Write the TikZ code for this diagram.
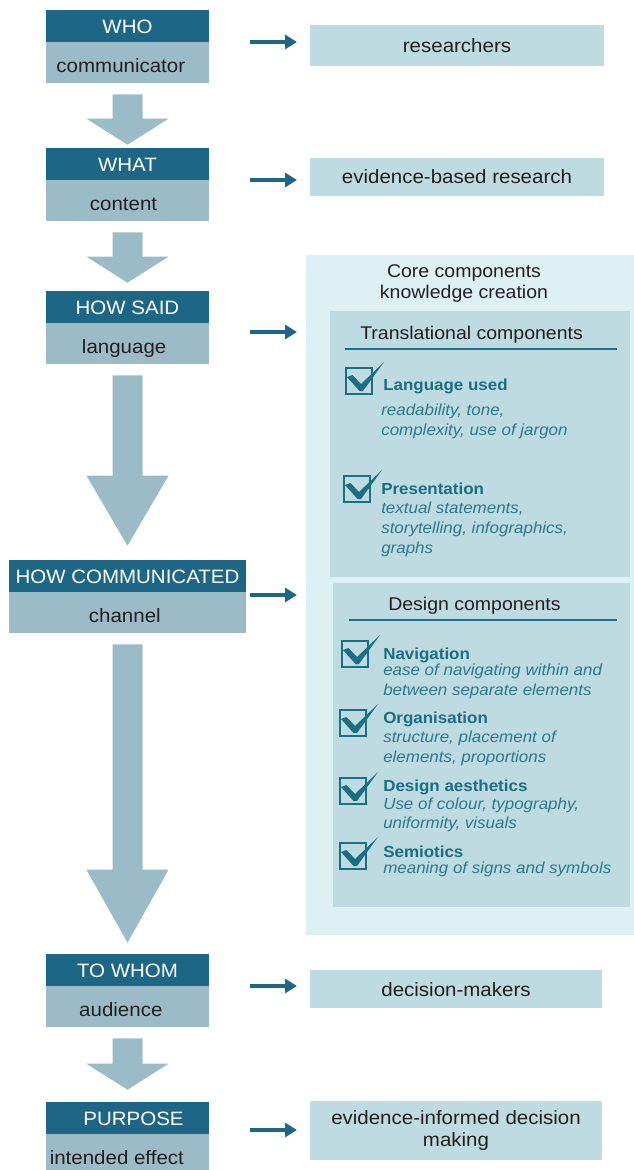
\documentclass[tikz,border=0pt]{standalone}
\usepackage{fontspec}
\setmainfont{Liberation Sans}[FakeStretch=1.06]
\usetikzlibrary{arrows.meta,calc}
\definecolor{hdr}{HTML}{1D6686}
\definecolor{bod}{HTML}{9BBCC6}
\definecolor{rbox}{HTML}{BDDBE0}
\definecolor{corec}{HTML}{DDF0F4}
\definecolor{tealc}{HTML}{1C6E85}
\definecolor{italc}{HTML}{2B7A8D}
\definecolor{txt}{HTML}{231F20}
\newcommand{\mainf}{\fontsize{14.5pt}{17pt}\selectfont}
\newcommand{\ttlf}{\fontsize{13.8pt}{16pt}\selectfont}
\newcommand{\smallf}{\fontsize{12pt}{14pt}\selectfont}
\newcommand{\bigarrow}[4]{%
  \fill[bigarr] ($(#1.south)+(-15,11)$) -- ($(#1.south)+(15,11)$)
    -- ($(#2.north)+(15,-#4-#3)$) -- ($(#2.north)+(41,-#4-#3)$)
    -- ($(#2.north)+(0,-#4)$) -- ($(#2.north)+(-41,-#4-#3)$)
    -- ($(#2.north)+(-15,-#4-#3)$) -- cycle;}
\begin{document}
\begin{tikzpicture}[x=0.75pt,y=-0.75pt,
  hdrbox/.style={fill=hdr, text=white, minimum width=122.25pt, minimum height=24pt, inner sep=0pt, text height=10.6pt, text depth=0pt, font=\mainf},
  bodbox/.style={fill=bod, text=txt, minimum width=122.25pt, minimum height=30.75pt, inner sep=0pt, text height=14.4pt, text depth=0pt, font=\mainf},
  rightbox/.style={fill=rbox, text=txt, inner sep=0pt, font=\mainf, align=center, text height=10.5pt, text depth=0pt},
  bigarr/.style={fill=bod},
  smarr/.style={draw=hdr, line width=3.4pt, -{Triangle[length=9pt,width=10.5pt]}},
  bt/.style={anchor=base west, inner sep=0pt, font=\smallf\bfseries, text=tealc},
  it/.style={anchor=base west, inner sep=0pt, font=\smallf\itshape, text=italc},
  ttl/.style={inner sep=0pt, font=\ttlf, text=txt},
  chk/.pic={
    \draw[tealc, line width=1.5pt] (0,0) rectangle (26,26);
    \fill[tealc] (1,9) -- (6.5,7) -- (15,16) -- (38,-6) -- (17,23) -- (13.5,23) -- cycle;
  }
]
\useasboundingbox (0,0) rectangle (634,1170);

% core background panels
\node[fill=corec, minimum width=246pt, minimum height=510pt, inner sep=0pt] (core) at (470,595) {};
\node[fill=rbox, minimum width=225pt, minimum height=199.5pt, inner sep=0pt] (trans) at (480,444) {};
\node[fill=rbox, minimum width=222.75pt, minimum height=243pt, inner sep=0pt] (design) at (481.5,745) {};

% left column
\node[hdrbox] (who-h) at (127.5,26) {WHO};
\node[bodbox] (who-b) at (127.5,62.5) {communicator\hspace*{10pt}};
\node[hdrbox] (what-h) at (127.5,164) {WHAT};
\node[bodbox] (what-b) at (127.5,200.5) {content\hspace*{6pt}};
\node[hdrbox] (said-h) at (127.5,307) {HOW SAID};
\node[bodbox] (said-b) at (127.5,343.5) {language\hspace*{5pt}};
\node[hdrbox, minimum width=177.75pt] (comm-h) at (127.5,576) {HOW COMMUNICATED};
\node[bodbox, minimum width=177.75pt] (comm-b) at (127.5,612.5) {channel\hspace*{4pt}};
\node[hdrbox] (whom-h) at (127.5,970) {TO WHOM};
\node[bodbox] (whom-b) at (127.5,1006.5) {audience\hspace*{10pt}};
\node[hdrbox] (purp-h) at (127.5,1118) {\hspace*{9pt}PURPOSE};
\node[bodbox] (purp-b) at (127.5,1154.5) {intended effect\hspace*{16pt}};

% big arrows
\bigarrow{who-b}{what-h}{26}{3}
\bigarrow{what-b}{said-h}{26}{8}
\bigarrow{said-b}{comm-h}{70}{14}
\bigarrow{comm-b}{whom-h}{73}{11}
\bigarrow{whom-b}{purp-h}{26}{12}

% right boxes
\node[rightbox, minimum width=220.5pt, minimum height=30.75pt] (r-who) at (457,45.5) {researchers};
\node[rightbox, minimum width=220.5pt, minimum height=28.5pt] (r-what) at (457,177) {evidence-based research};
\node[rightbox, minimum width=219pt, minimum height=28.5pt] (r-whom) at (456,989) {decision-makers};
\node[rightbox, minimum width=219pt, minimum height=44.25pt, text height=, text depth=, font=\fontsize{14.5pt}{16.5pt}\selectfont] (r-purp) at (456,1130.5) {evidence-informed decision\\making};

% small arrows
\coordinate (s1a) at (250,42);   \coordinate (s1b) at (297,42);
\coordinate (s2a) at (250,180);  \coordinate (s2b) at (297,180);
\coordinate (s3a) at (250,332);  \coordinate (s3b) at (297,332);
\coordinate (s4a) at (250,595);  \coordinate (s4b) at (297,595);
\coordinate (s5a) at (250,986);  \coordinate (s5b) at (297,986);
\coordinate (s6a) at (250,1130); \coordinate (s6b) at (297,1130);
\draw[smarr] (s1a) -- (s1b);
\draw[smarr] (s2a) -- (s2b);
\draw[smarr] (s3a) -- (s3b);
\draw[smarr] (s4a) -- (s4b);
\draw[smarr] (s5a) -- (s5b);
\draw[smarr] (s6a) -- (s6b);

% core titles
\node[ttl, anchor=base] (core-t1) at (464,277) {Core components};
\node[ttl, anchor=base] (core-t2) at (464,298) {knowledge creation};
\node[ttl, anchor=base west] (trans-t) at (360,339) {Translational components};
\node[ttl, anchor=base west] (design-t) at (388,610) {Design components};
\draw[tealc, line width=1.1pt] (345,349) -- (617,349);
\draw[tealc, line width=1.1pt] (349,620) -- (617,620);

% translational items
\pic at (346,368) {chk};
\node[bt] (t-lang) at (383,390) {Language used};
\node[it] (d-lang1) at (381,415) {readability, tone,};
\node[it] (d-lang2) at (381,435) {complexity, use of jargon};
\pic at (344,476) {chk};
\node[bt] (t-pres) at (381,494) {Presentation};
\node[it] (d-pres1) at (381,513) {textual statements,};
\node[it] (d-pres2) at (381,533) {storytelling, infographics,};
\node[it] (d-pres3) at (381,553) {graphs};

% design items
\pic at (342,641) {chk};
\node[bt] (t-nav) at (383,659) {Navigation};
\node[it] (d-nav1) at (383,675) {ease of navigating within and};
\node[it] (d-nav2) at (383,695) {between separate elements};
\pic at (340,710) {chk};
\node[bt] (t-org) at (383,723) {Organisation};
\node[it] (d-org1) at (383,742) {structure, placement of};
\node[it] (d-org2) at (383,762) {elements, proportions};
\pic at (340,778) {chk};
\node[bt] (t-aes) at (383,791) {Design aesthetics};
\node[it] (d-aes1) at (383,809) {Use of colour, typography,};
\node[it] (d-aes2) at (383,828) {uniformity, visuals};
\pic at (340,843) {chk};
\node[bt] (t-sem) at (383,857) {Semiotics};
\node[it] (d-sem1) at (383,873) {meaning of signs and symbols};
\end{tikzpicture}
\end{document}
